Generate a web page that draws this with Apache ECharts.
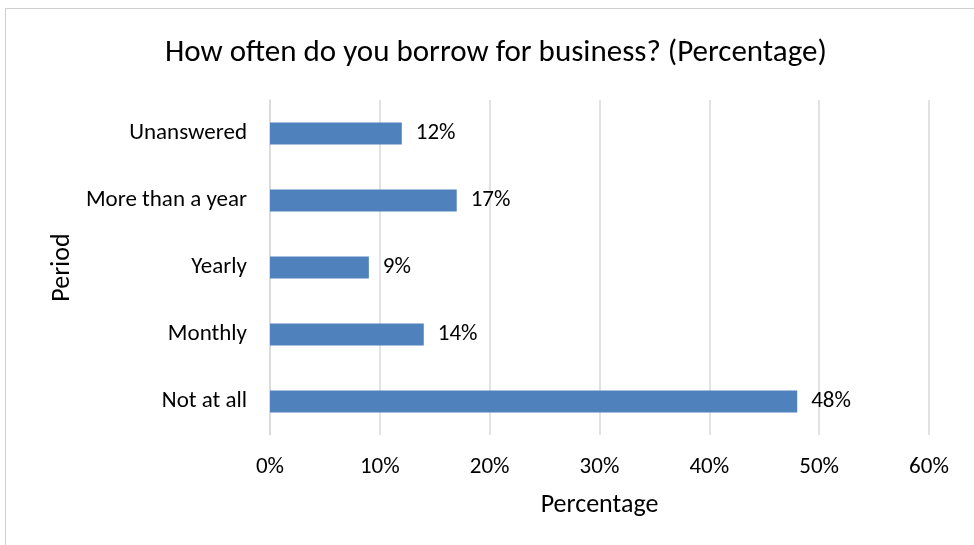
<!DOCTYPE html>
<html>
<head>
<meta charset="utf-8">
<script src="https://cdn.jsdelivr.net/npm/echarts@6/dist/echarts.min.js"></script>
<style>
html,body{margin:0;padding:0;background:#fff;}
#frame{position:absolute;left:5px;top:8px;width:975px;height:545px;border:1px solid #d0d0d0;box-sizing:border-box;}
#chart{position:absolute;left:0;top:0;width:974px;height:545px;}
</style>
</head>
<body>
<div id="frame"></div>
<div id="chart"></div>
<script>
var categories = ["Not at all", "Monthly", "Yearly", "More than a year", "Unanswered"];
var values = [48, 14, 9, 17, 12];
var xTicks = [0, 10, 20, 30, 40, 50, 60];
var titleText = "How often do you borrow for business? (Percentage)";
var xName = "Percentage";
var yName = "Period";

var FONT = 'Carlito, "Liberation Sans", "Open Sans", sans-serif';
var chart = echarts.init(document.getElementById('chart'), null, {renderer: 'canvas'});
chart.setOption({
  animation: false,
  backgroundColor: 'transparent',
  title: {
    text: titleText, left: 160, top: 33,
    textStyle: {fontFamily: FONT, fontSize: 31, fontWeight: 'normal', color: '#000'}
  },
  grid: {left: 270, right: 45, top: 100, bottom: 110, containLabel: false},
  xAxis: {
    type: 'value', min: xTicks[0], max: xTicks[xTicks.length - 1], interval: 10,
    name: xName, nameLocation: 'middle', nameGap: 57,
    nameTextStyle: {fontFamily: FONT, fontSize: 26, color: '#000'},
    axisLine: {show: false}, axisTick: {show: false},
    axisLabel: {formatter: '{value}%', margin: 21, fontFamily: FONT, fontSize: 23, color: '#000'},
    splitLine: {show: true, lineStyle: {color: '#d9d9d9', width: 1.5}}
  },
  yAxis: {
    type: 'category', data: categories,
    name: yName, nameLocation: 'middle', nameGap: 191, nameRotate: 90,
    nameTextStyle: {fontFamily: FONT, fontSize: 26, color: '#000'},
    axisLine: {show: true, lineStyle: {color: '#d9d9d9', width: 1.5}},
    axisTick: {show: false},
    axisLabel: {margin: 23, fontFamily: FONT, fontSize: 23, color: '#000', padding: [5, 0, 0, 0]},
    splitLine: {show: false}
  },
  series: [{
    type: 'bar', data: values, barWidth: '33%',
    itemStyle: {color: '#4f81bd'},
    label: {show: true, position: 'right', distance: 14, formatter: '{c}%',
      fontFamily: FONT, fontSize: 23, color: '#000', padding: [5, 0, 0, 0]}
  }]
});
</script>
</body>
</html>
